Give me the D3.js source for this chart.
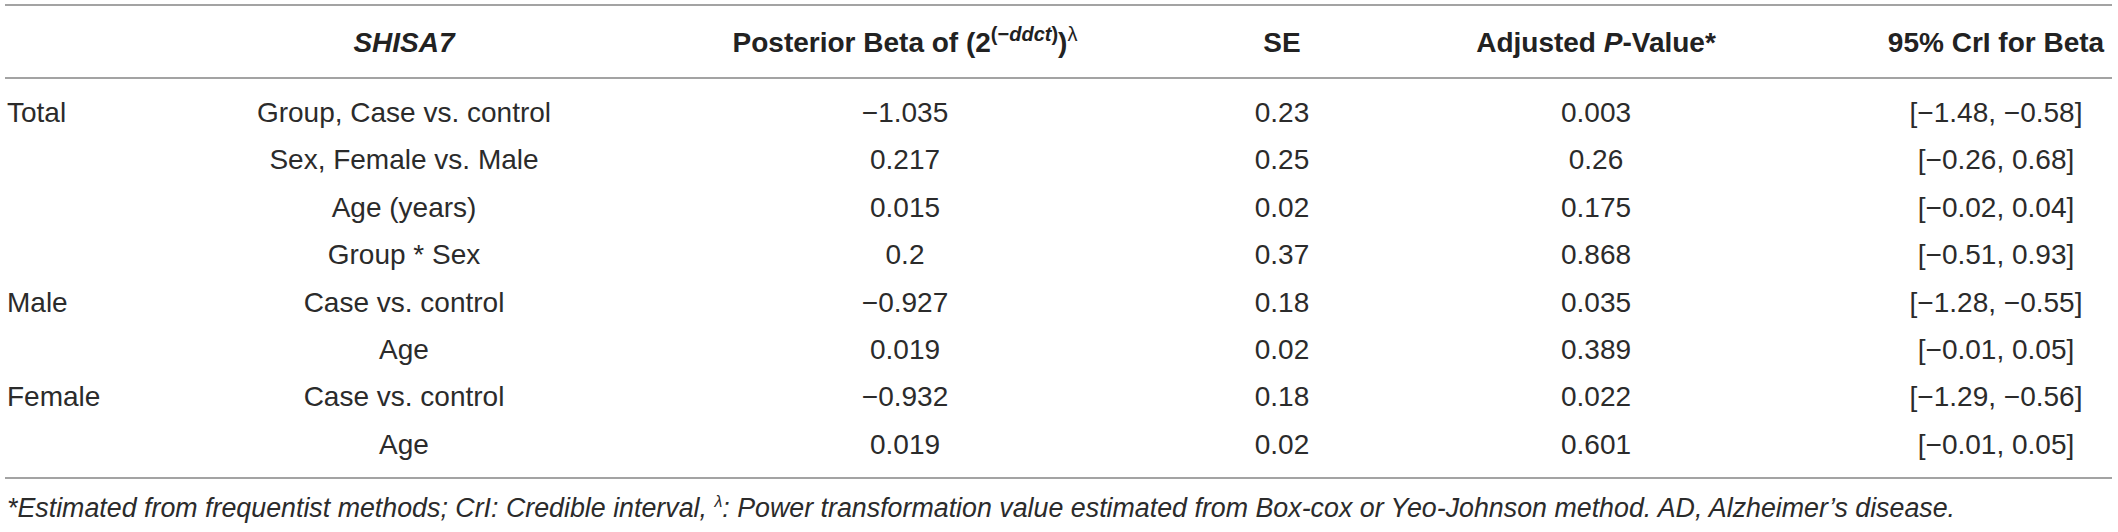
<!DOCTYPE html>
<html>
<head>
<meta charset="utf-8">
<script src="https://cdn.jsdelivr.net/npm/d3@7"></script>
<style>
  body { margin: 0; background: #fff; }
  svg { display: block; font-family: "Liberation Sans", Arial, sans-serif; }
</style>
</head>
<body>
<div id="tbl"></div>
<script>
// table values
var groups = ["Total", "", "", "", "Male", "", "Female", ""];
var terms = ["Group, Case vs. control", "Sex, Female vs. Male", "Age (years)", "Group * Sex",
             "Case vs. control", "Age", "Case vs. control", "Age"];
var betas = [-1.035, 0.217, 0.015, 0.2, -0.927, 0.019, -0.932, 0.019];
var ses = [0.23, 0.25, 0.02, 0.37, 0.18, 0.02, 0.18, 0.02];
var pvals = [0.003, 0.26, 0.175, 0.868, 0.035, 0.389, 0.022, 0.601];
var ciLow = [-1.48, -0.26, -0.02, -0.51, -1.28, -0.01, -1.29, -0.01];
var ciHigh = [-0.58, 0.68, 0.04, 0.93, -0.55, 0.05, -0.56, 0.05];
var columns = ["group", "term", "beta", "se", "p", "ci"];

var width = 2118, height = 532;
var svg = d3.select("#tbl").append("svg")
    .attr("width", width)
    .attr("height", height);

// column centres and row baselines
var x = d3.scaleOrdinal().domain(columns).range([7, 404, 905, 1282, 1596, 1996]);
var y = d3.scaleLinear().domain([0, groups.length - 1]).range([122, 453.8]);

function num(v) { return String(v).replace("-", "\u2212"); }

var rows = groups.map(function(g, i) {
    return {
        group: g,
        term: terms[i],
        beta: num(betas[i]),
        se: num(ses[i]),
        p: num(pvals[i]),
        ci: "[" + num(ciLow[i]) + ", " + num(ciHigh[i]) + "]"
    };
});

// rules
var rules = [5, 78, 478];
svg.selectAll(".rule")
    .data(rules)
    .enter()
    .append("line")
    .attr("class", "rule")
    .attr("x1", 5)
    .attr("x2", 2112)
    .attr("y1", d => d)
    .attr("y2", d => d)
    .attr("stroke", "#a3a3a3")
    .attr("stroke-width", 2);

// header
var head = svg.append("g")
    .attr("font-size", 28)
    .attr("font-weight", "bold")
    .attr("fill", "#222")
    .attr("text-anchor", "middle");

head.append("text").attr("x", x("term")).attr("y", 52)
    .attr("font-style", "italic").text("SHISA7");

var hb = head.append("text").attr("x", x("beta")).attr("y", 52);
hb.append("tspan").text("Posterior Beta of (2");
hb.append("tspan").attr("font-size", 20).attr("dy", -11).text("(\u2212");
hb.append("tspan").attr("font-size", 20).attr("font-style", "italic").text("ddct");
hb.append("tspan").attr("font-size", 20).text(")");
hb.append("tspan").attr("dy", 11).text(")");
hb.append("tspan").attr("font-size", 20).attr("font-weight", "normal").attr("dy", -11).text("\u03bb");

head.append("text").attr("x", x("se")).attr("y", 52).text("SE");

var hp = head.append("text").attr("x", x("p")).attr("y", 52);
hp.append("tspan").text("Adjusted ");
hp.append("tspan").attr("font-style", "italic").text("P");
hp.append("tspan").text("-Value*");

head.append("text").attr("x", x("ci")).attr("y", 52).text("95% CrI for Beta");

// body cells
var body = svg.append("g")
    .attr("font-size", 28)
    .attr("fill", "#2b2b2b");

var rowG = body.selectAll(".row")
    .data(rows)
    .enter()
    .append("g")
    .attr("class", "row")
    .attr("transform", (d, i) => "translate(0," + y(i) + ")");

rowG.selectAll("text")
    .data(d => columns.map(c => ({ col: c, val: d[c] })))
    .enter()
    .append("text")
    .attr("x", d => x(d.col))
    .attr("text-anchor", d => d.col == "group" ? "start" : "middle")
    .text(d => d.val);

// footnote
var foot = svg.append("text")
    .attr("x", 7)
    .attr("y", 517)
    .attr("font-size", 26.8)
    .attr("font-style", "italic")
    .attr("fill", "#2b2b2b");
foot.append("tspan").text("*Estimated from frequentist methods; CrI: Credible interval, ");
foot.append("tspan").attr("font-size", 16).attr("dy", -10).text("\u03bb");
foot.append("tspan").attr("dy", 10).text(": Power transformation value estimated from Box-cox or Yeo-Johnson method. AD, Alzheimer\u2019s disease.");
</script>
</body>
</html>
